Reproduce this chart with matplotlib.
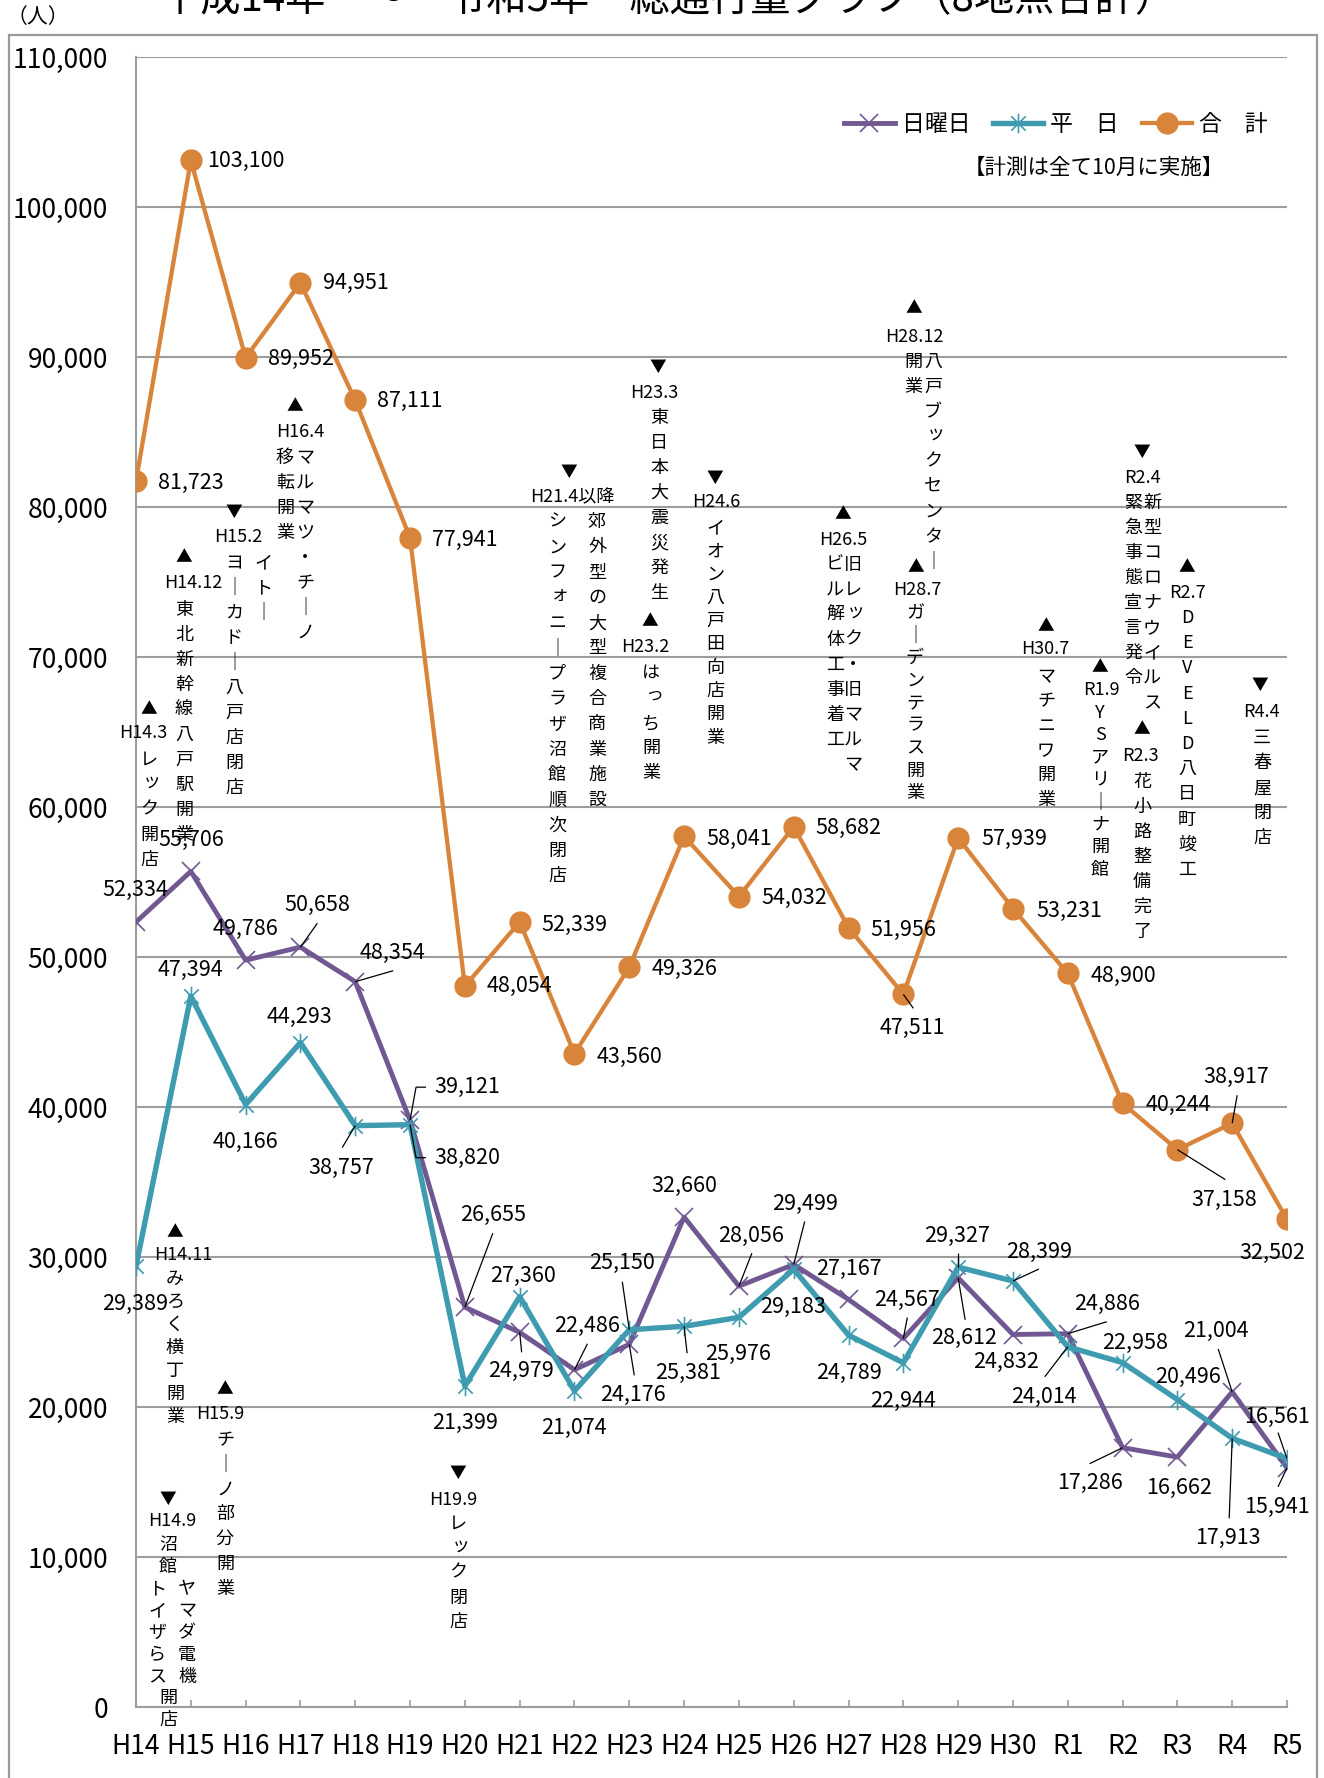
import matplotlib
matplotlib.use("Agg")
import matplotlib.pyplot as plt
from matplotlib.path import Path
from matplotlib.lines import Line2D
from matplotlib.patches import Rectangle
from matplotlib.ticker import FuncFormatter

plt.rcParams['font.family'] = ['Noto Sans CJK JP', 'DejaVu Sans']

# ---------------- data ----------------
categories = ['H14', 'H15', 'H16', 'H17', 'H18', 'H19', 'H20', 'H21', 'H22', 'H23',
              'H24', 'H25', 'H26', 'H27', 'H28', 'H29', 'H30', 'R1', 'R2', 'R3', 'R4', 'R5']
sunday = [52334, 55706, 49786, 50658, 48354, 39121, 26655, 24979, 22486, 24176,
          32660, 28056, 29499, 27167, 24567, 28612, 24832, 24886, 17286, 16662, 21004, 15941]
weekday = [29389, 47394, 40166, 44293, 38757, 38820, 21399, 27360, 21074, 25150,
           25381, 25976, 29183, 24789, 22944, 29327, 28399, 24014, 22958, 20496, 17913, 16561]
total = [81723, 103100, 89952, 94951, 87111, 77941, 48054, 52339, 43560, 49326,
         58041, 54032, 58682, 51956, 47511, 57939, 53231, 48900, 40244, 37158, 38917, 32502]
series_names = ['日曜日', '平　日', '合　計']
y_ticks = [0, 10000, 20000, 30000, 40000, 50000, 60000, 70000, 80000, 90000, 100000, 110000]
title_text = '平成14年　～　令和5年　総通行量グラフ（8地点合計）'
unit_text = '（人）'
note_text = '【計測は全て10月に実施】'

# ---------------- styles / layout ----------------
C_SUN = '#715892'
C_WEEK = '#3f9bb0'
C_TOT = '#d9843b'
GRID = '#9d9d9d'

W, H = 1324, 1778
AX_L, AX_R, AX_T, AX_B = 136, 1287, 57, 1707
XMAX = len(categories) - 1
YMAX = 110000

fig = plt.figure(figsize=(W / 100, H / 100), dpi=100)
ax = fig.add_axes([AX_L / W, 1 - AX_B / H, (AX_R - AX_L) / W, (AX_B - AX_T) / H])
ax.set_xlim(0, XMAX)
ax.set_ylim(0, YMAX)

SX = XMAX / (AX_R - AX_L)
SY = YMAX / (AX_B - AX_T)


def P(px, py):
    """reference-image pixel -> data coordinates"""
    return (px - AX_L) * SX, (AX_B - py) * SY


# outer chart border
fig.patches.append(Rectangle((9 / W, -0.01), (1317 - 9) / W, 1 - 35 / H + 0.01,
                             transform=fig.transFigure, fill=False,
                             edgecolor='#9a9a9a', lw=1.6, zorder=0))

# grid & axes
ax.set_yticks(y_ticks)
ax.yaxis.set_major_formatter(FuncFormatter(lambda v, p: f'{int(v):,}'))
ax.yaxis.grid(True, color=GRID, lw=1.5)
ax.set_axisbelow(True)
for s in ['top', 'right']:
    ax.spines[s].set_visible(False)
for s in ['left', 'bottom']:
    ax.spines[s].set_color(GRID)
    ax.spines[s].set_linewidth(1.5)
xs = list(range(len(categories)))
ax.set_xticks(xs)
ax.set_xticklabels(categories)
ax.tick_params(axis='x', direction='in', length=5, width=1.2, color=GRID,
               labelsize=19, pad=19)
ax.tick_params(axis='y', length=0, labelsize=19, pad=20)

# star marker (x + vertical)
star = Path([(-1, -1), (1, 1), (-1, 1), (1, -1), (0, -1.35), (0, 1.35)],
            [Path.MOVETO, Path.LINETO] * 3)

ax.plot(xs, sunday, color=C_SUN, lw=3.5, marker='x', ms=13, mew=1.2, zorder=3)
ax.plot(xs, weekday, color=C_WEEK, lw=3.9, marker=star, ms=14, mew=1.2,
        mfc='none', zorder=4)
ax.plot(xs, total, color=C_TOT, lw=3.1, marker='o', ms=15, zorder=5)

# ---------------- data labels ----------------
sun_off = [(-1, 32), (0, 31), (0, 31), (17, 42), (37, 29), (57, 33), (28, 92), (1, -39),
           (13, 44), (4, -51), (0, 31), (12, 50), (11, 61), (0, 31), (4, 39), (6, -60),
           (-7, -27), (39, 30), (-33, -35), (2, -31), (-16, 61), (-10, -39)]
week_off = [(-1, -38), (0, 26), (0, -37), (-1, 26), (-14, -42), (57, -33), (0, -37), (3, 21),
            (-1, -37), (-7, 67), (4, -47), (-1, -37), (-1, -38), (0, -38), (0, -38), (-1, 31),
            (26, 29), (-24, -50), (13, 20), (11, 23), (-4, -100), (-10, 42)]
tot_off = [(55, -2), (55, 0), (55, -1), (55, 0), (55, -1), (55, -2), (55, 0), (55, -3),
           (55, -3), (55, -2), (55, -3), (55, -1), (55, -1), (55, -2), (9, -34), (56, -1),
           (56, -2), (56, -2), (56, -2), (47, -50), (4, 46), (-15, -33)]

sun_lead = {3: [(17, 24)], 4: [(38, 11)], 5: [(16, 33), (6, 33)], 6: [(28, 74)],
            7: [(2, -20)], 8: [(13, 26)], 9: [(5, -31)], 11: [(13, 33)], 12: [(11, 43)],
            14: [(4, 21)], 15: [(7, -42)], 17: [(39, 12)], 18: [(-33, -16)],
            20: [(-14, 43)], 21: [(-9, -19)]}
week_lead = {4: [(-13, -22)], 5: [(16, -33), (6, -33)], 9: [(-7, 48)], 10: [(3, -27)],
             15: [(0, 14)], 16: [(26, 12)], 17: [(-23, -30)], 20: [(-3, -80)],
             21: [(-9, 26)]}
tot_lead = {14: [(10, -14)], 19: [(48, -30)], 20: [(5, 28)]}


def labels(vals, offs, leads):
    for i, (v, (dx, dy)) in enumerate(zip(vals, offs)):
        ax.annotate(f'{v:,}', (i, v), xytext=(dx, dy), textcoords='offset pixels',
                    ha='center', va='center', fontsize=15.5, color='black', zorder=6)
        if i in leads:
            pts = leads[i] + [(0, 0)]
            ax.plot([i + a * SX for a, b in pts], [v + b * SY for a, b in pts],
                    color='black', lw=0.9, zorder=6, solid_capstyle='butt')


labels(sunday, sun_off, sun_lead)
labels(weekday, week_off, week_lead)
labels(total, tot_off, tot_lead)

# ---------------- event annotations ----------------
events = [
    ('▲', (149, 710), 'H14.3', (143, 733), [(149, 760, 'レック開店')], 25),
    ('▲', (184, 558), 'H14.12', (193, 583), [(184, 610, '東北新幹線八戸駅開業')], 25),
    ('▼', (234, 512), 'H15.2', (238, 537), [(263, 563, 'イトー'), (234, 563, 'ヨーカドー八戸店閉店')], 25),
    ('▲', (295, 407), 'H16.4', (300, 432), [(305, 458, 'マルマツ・チーノ'), (285, 458, '移転開業')], 25),
    ('▲', (175, 1233), 'H14.11', (183, 1255), [(175, 1279, 'みろく横丁開業')], 23),
    ('▲', (225, 1390), 'H15.9', (220, 1414), [(225, 1440, 'チーノ部分開業')], 24.8),
    ('▼', (168, 1499), 'H14.9', (172, 1521), [(168, 1545, '沼館'), (157, 1589, 'トイザらス'),
                                             (187, 1589, 'ヤマダ電機'), (168, 1698, '開店')], 22),
    ('▼', (458, 1473), 'H19.9', (453, 1500), [(458, 1524, 'レック閉店')], 24.5),
    ('▼', (569, 472), 'H21.4以降', (572, 497), [(597, 522, '郊外型の大型複合商業施設'),
                                              (557, 522, 'シンフォニープラザ沼館順次閉店')], 25.3),
    ('▼', (658, 367), 'H23.3', (654, 393), [(659, 418, '東日本大震災発生')], 25),
    ('▲', (650, 622), 'H23.2', (645, 647), [(651, 673, 'はっち開業')], 25),
    ('▼', (715, 478), 'H24.6', (716, 502), [(715, 528, 'イオン八戸田向店開業')], 23.3),
    ('▲', (843, 515), 'H26.5', (843, 540), [(853, 565, '旧レック・旧マルマ'), (835, 565, 'ビル解体工事着工')], 25),
    ('▲', (914, 309), 'H28.12', (914, 337), [(933, 362, '八戸ブックセンター'), (913, 362, '開業')], 25),
    ('▲', (916, 568), 'H28.7', (917, 590), [(915, 613, 'ガーデンテラス開業')], 22.5),
    ('▲', (1046, 627), 'H30.7', (1045, 649), [(1046, 677, 'マチニワ開業')], 24.6),
    ('▲', (1100, 668), 'R1.9', (1101, 690), [(1100, 713, 'YSアリーナ開館')], 22.4),
    ('▼', (1142, 452), 'R2.4', (1142, 478), [(1152, 503, '新型コロナウイルス'), (1133, 503, '緊急事態宣言発令')], 25),
    ('▲', (1142, 730), 'R2.3', (1140, 756), [(1142, 782, '花小路整備完了')], 25),
    ('▲', (1187, 568), 'R2.7', (1187, 593), [(1187, 618, 'DEVELD八日町竣工')], 25.2),
    ('▼', (1260, 685), 'R4.4', (1261, 712), [(1262, 738, '三春屋閉店')], 25),
]
SMALL = set('ッっォャュョァィゥェ')
EV_FS = 13
for arrow, apos, date, dpos, cols, sp in events:
    ax.text(*P(*apos), arrow, ha='center', va='center', fontsize=12, zorder=7)
    ax.text(*P(*dpos), date, ha='center', va='center', fontsize=EV_FS, zorder=7)
    for cx, cy, txt in cols:
        for k, ch in enumerate(txt):
            if ch == 'ー':
                ch = '｜'
            ox, oy = (3, -3) if ch in SMALL else (0, 0)
            ax.text(*P(cx + ox, cy + k * sp + oy), ch, ha='center', va='center',
                    fontsize=EV_FS, zorder=7)

# ---------------- legend & notes ----------------
handles = [Line2D([], [], color=C_SUN, lw=3.5, marker='x', ms=13, mew=1.2),
           Line2D([], [], color=C_WEEK, lw=3.9, marker=star, ms=14, mew=1.2, mfc='none'),
           Line2D([], [], color=C_TOT, lw=3.1, marker='o', ms=15)]
ax.legend(handles, series_names, loc='center', bbox_to_anchor=P(1056, 125),
          bbox_transform=ax.transData, ncol=3, frameon=False, fontsize=16.5,
          handlelength=2.2, handletextpad=0.3, columnspacing=1.0, borderpad=0)
ax.text(*P(1094, 168), note_text, ha='center', va='center', fontsize=15.5)

fig.text(38 / W, 1 - 17 / H, unit_text, ha='center', va='center', fontsize=15)
fig.text(668 / W, 1 - 11 / H, title_text, ha='center', va='baseline', fontsize=29)

fig.savefig('out.png', dpi=100)
